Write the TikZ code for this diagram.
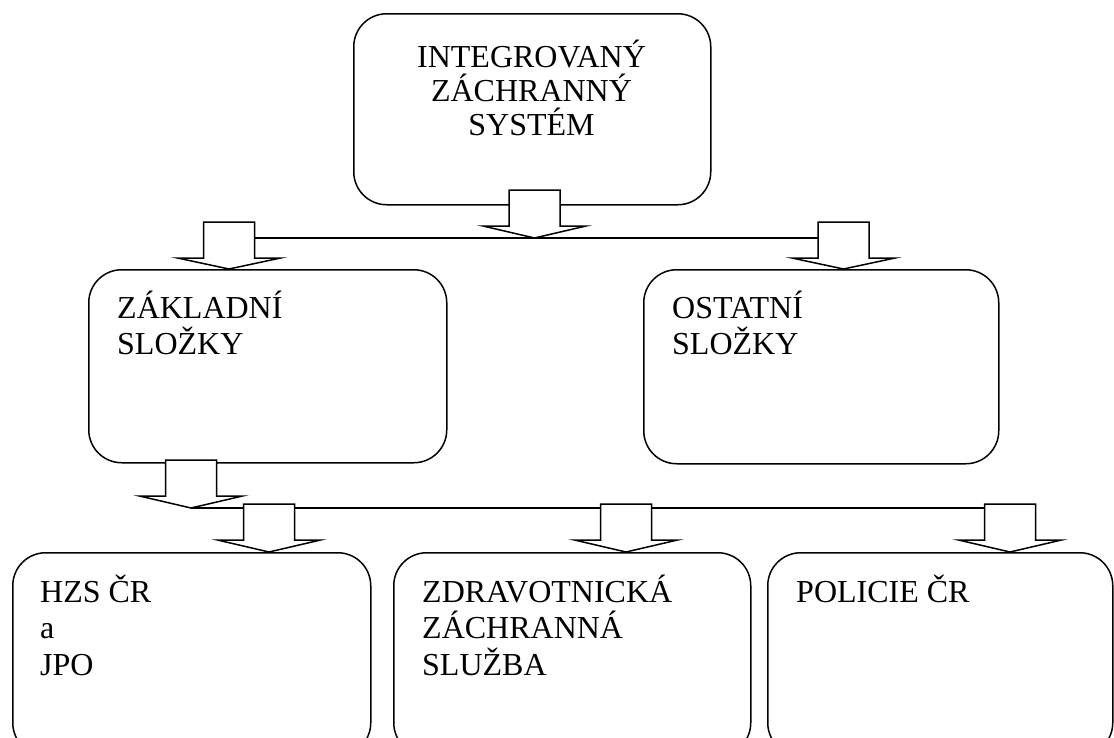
\documentclass[tikz,border=0pt]{standalone}
\usepackage{fontspec}
\setmainfont{Liberation Serif}
\tikzset{
  box/.style={draw, line width=1.5pt, rounded corners=33pt, inner sep=0pt, anchor=north west},
  txt/.style={inner sep=0pt, anchor=base west, font=\fontsize{32}{36.5}\selectfont},
  ctxt/.style={inner sep=0pt, anchor=base, font=\fontsize{32}{34}\selectfont},
  barrow/.style={draw, fill=white, line width=1.5pt, line join=miter},
  bus/.style={line width=1.5pt},
}
% block arrow: centre x, stem top y, wing y, tip y
\newcommand\blockarrow[4]{%
  \draw[barrow] (#1-25.5,#2) -- (#1+25.5,#2) -- (#1+25.5,#3) -- (#1+51.5,#3)
    -- (#1,#4) -- (#1-51.5,#3) -- (#1-25.5,#3) -- cycle;}
\begin{document}
\begin{tikzpicture}[x=1pt, y=-1pt]
  \useasboundingbox (0,0) rectangle (1114,737);
  \clip (0,0) rectangle (1114,737);

  % boxes
  \node[box, minimum width=357pt, minimum height=191pt] (izs) at (353,13) {};
  \node[box, minimum width=358pt, minimum height=193pt] (zakl) at (88,269) {};
  \node[box, minimum width=355pt, minimum height=194pt] (ostat) at (643,269) {};
  \node[box, minimum width=358pt, minimum height=203pt] (hzs) at (12,552) {};
  \node[box, minimum width=357pt, minimum height=203pt] (zzs) at (393,552) {};
  \node[box, minimum width=345pt, minimum height=203pt] (pol) at (767,552) {};

  % buses
  \coordinate (busAL) at (229,238);
  \coordinate (busAR) at (843.5,238);
  \coordinate (busBL) at (191,508);
  \coordinate (busBR) at (1010,508);
  \draw[bus] (busAL) -- (busAR);
  \draw[bus] (busBL) -- (busBR);

  % block arrows
  \blockarrow{534.5}{190}{226}{238}
  \blockarrow{229}{222}{258}{269}
  \blockarrow{843.5}{222}{258}{269}
  \blockarrow{191}{460}{496}{508}
  \blockarrow{269}{504}{540}{552}
  \blockarrow{626}{504}{540}{552}
  \blockarrow{1010}{504}{540}{552}

  % texts
  \node[ctxt] (izs-t) at (531.5,67) {\vtop{\hbox to 300pt{\hss INTEGROVANÝ\hss}\hbox to 300pt{\hss ZÁCHRANNÝ\hss}\hbox to 300pt{\hss SYSTÉM\hss}}};
  \node[txt] (zakl-t) at (117,318) {\vtop{\hbox{ZÁKLADNÍ}\hbox{SLOŽKY}}};
  \node[txt] (ostat-t) at (672,318) {\vtop{\hbox{OSTATNÍ}\hbox{SLOŽKY}}};
  \node[txt] (hzs-t) at (40,602) {\vtop{\hbox{HZS ČR}\hbox{a}\hbox{JPO}}};
  \node[txt] (zzs-t) at (422,602) {\vtop{\hbox{ZDRAVOTNICKÁ}\hbox{ZÁCHRANNÁ}\hbox{SLUŽBA}}};
  \node[txt] (pol-t) at (796,602) {POLICIE ČR};
\end{tikzpicture}
\end{document}
